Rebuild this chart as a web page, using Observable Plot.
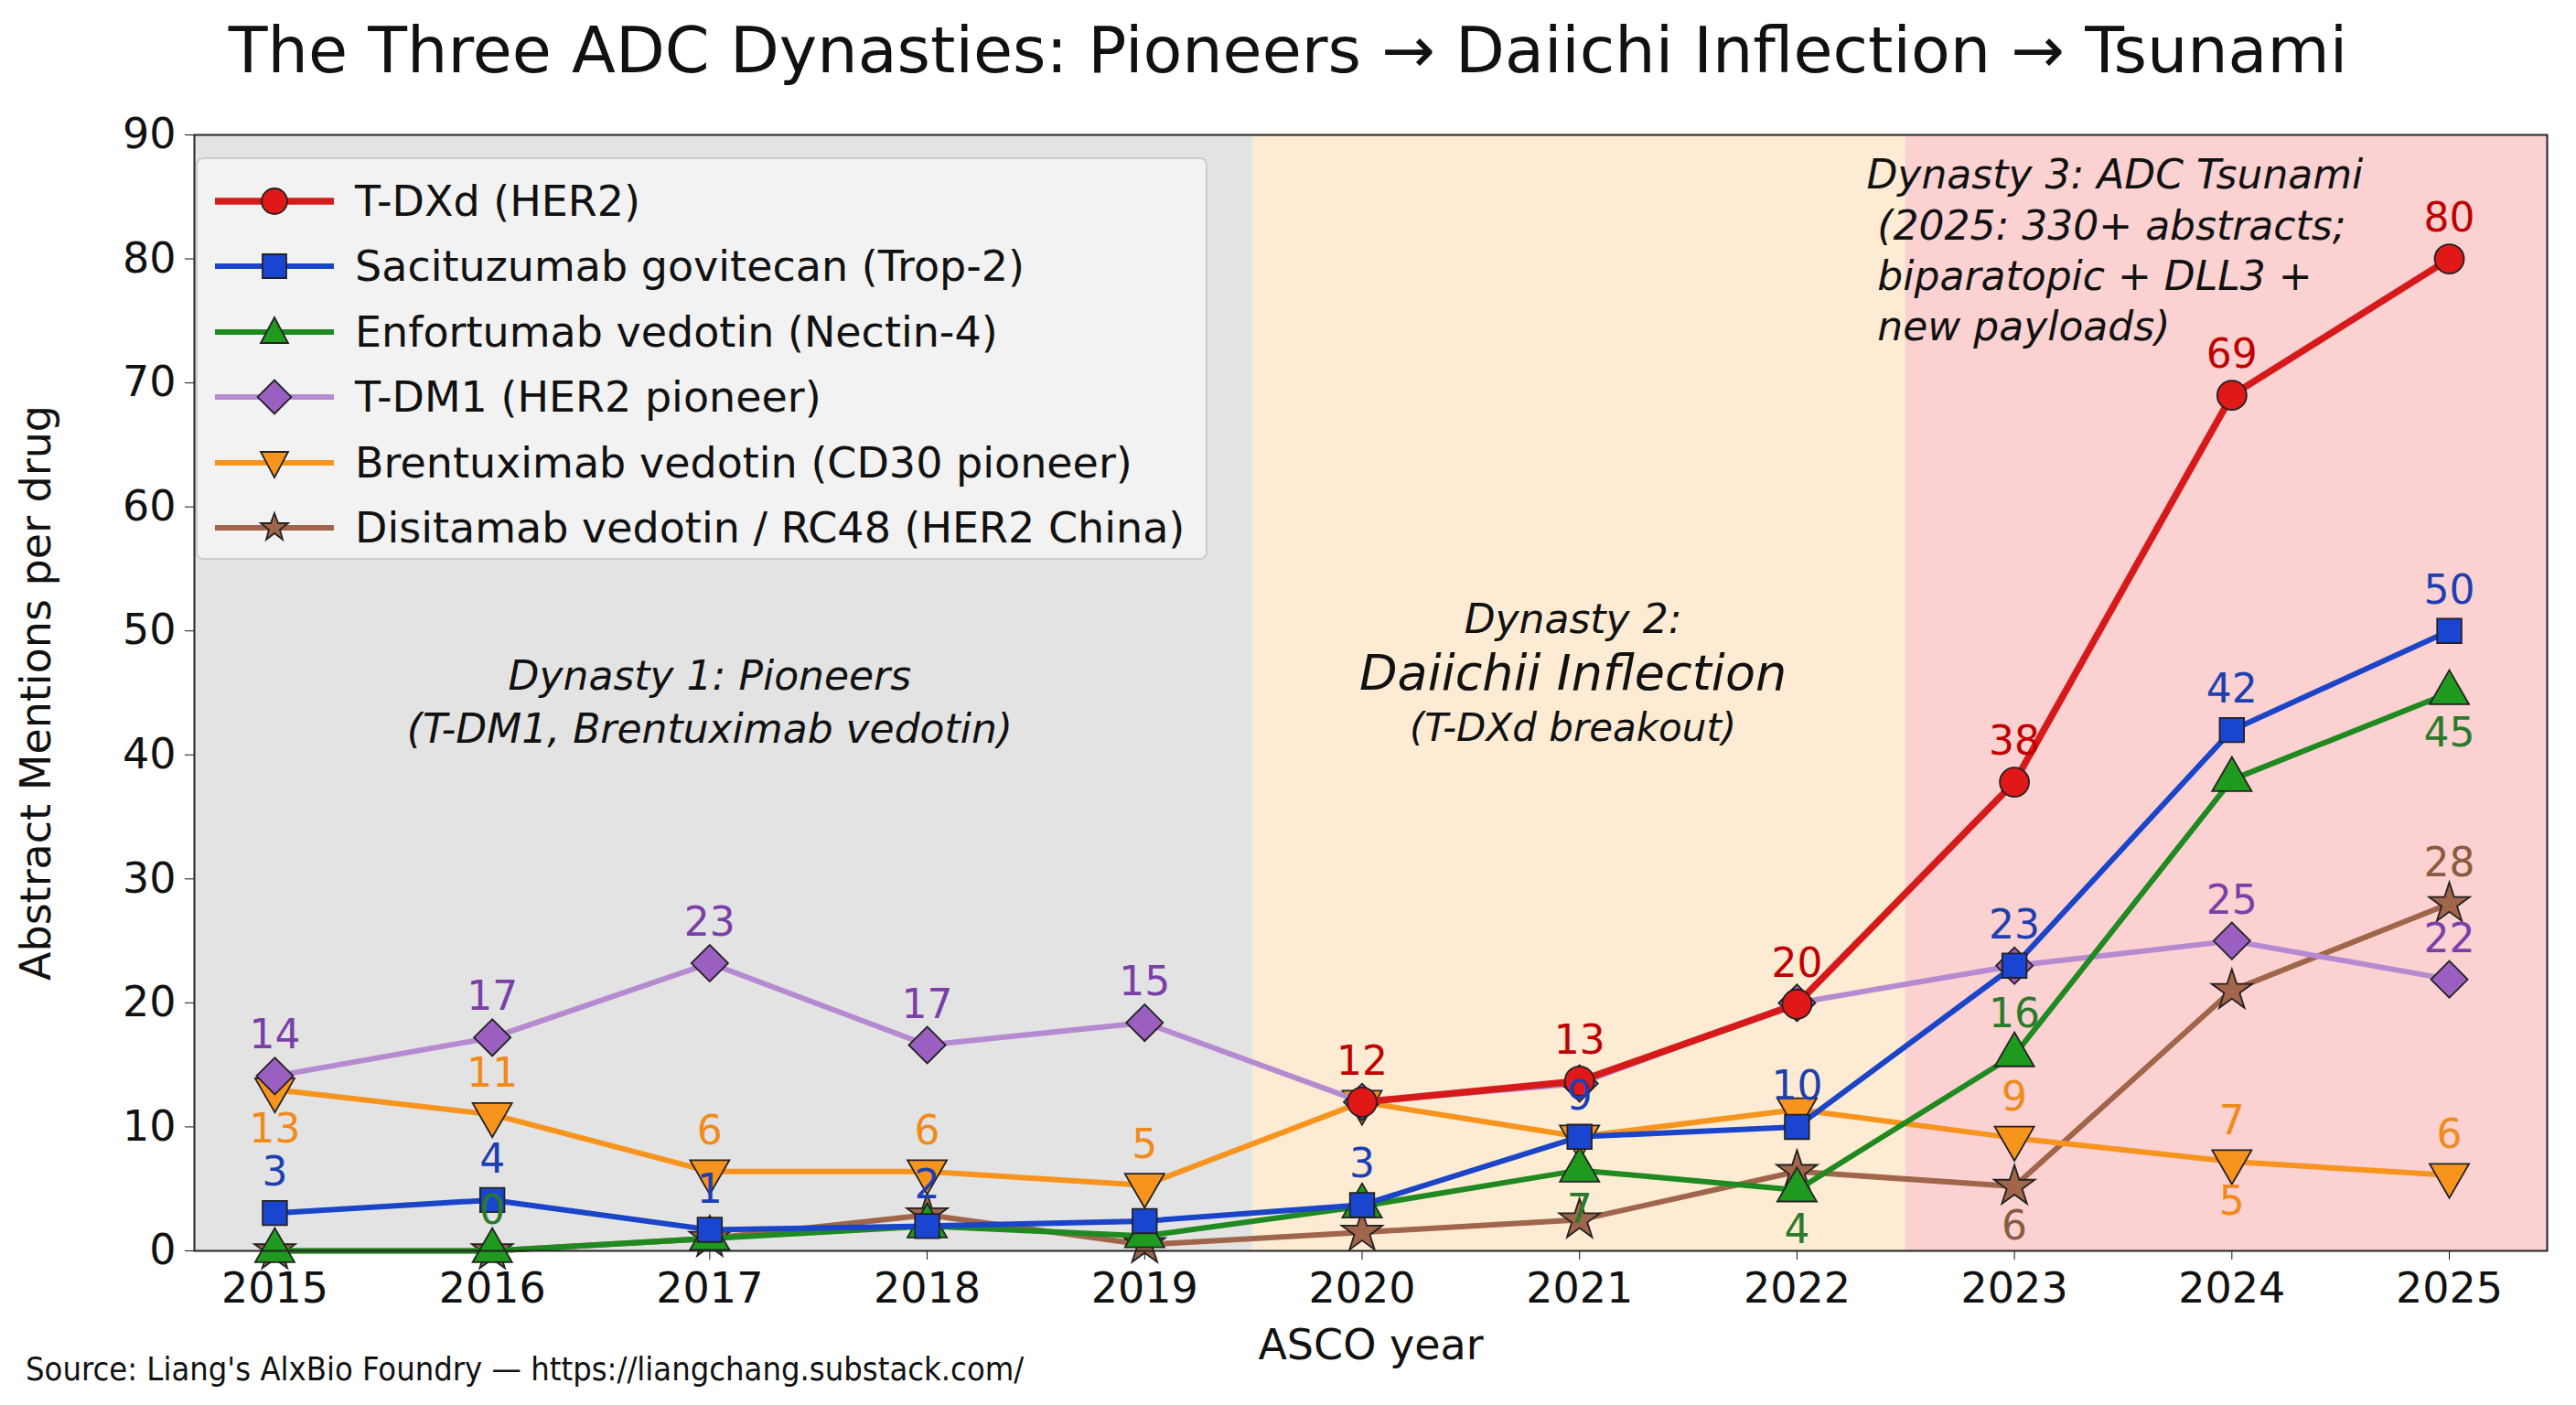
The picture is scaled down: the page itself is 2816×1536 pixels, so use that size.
<!DOCTYPE html>
<html><head><meta charset="utf-8">
<script src="https://cdn.jsdelivr.net/npm/d3@7"></script>
<script src="https://cdn.jsdelivr.net/npm/@observablehq/plot@0.6"></script>
<style>
body{margin:0;background:#fff;font-family:"DejaVu Sans",sans-serif;}
#wrap{position:relative;width:2816px;height:1536px;}
#title{position:absolute;top:14px;left:0;width:2816px;text-align:center;font-size:70px;color:#111;}
#src{position:absolute;left:28px;top:1476px;font-size:36px;color:#111;font-family:"DejaVu Sans Condensed","DejaVu Sans",sans-serif;}
#legend{position:absolute;left:214px;top:172px;width:1106px;height:440px;border:2px solid #ccc;border-radius:8px;background:rgba(245,245,245,0.85);box-sizing:border-box;padding:10px 14px;}
.li{display:flex;align-items:center;height:71.5px;font-size:46px;color:#111;white-space:nowrap;}
.li svg{margin-right:18px;}
</style></head><body>
<div id="wrap"><div id="title">The Three ADC Dynasties: Pioneers → Daiichi Inflection → Tsunami</div>
<div id="chart" style="position:absolute;top:110px;left:0"></div>
<div id="legend"></div>
<div id="src">Source: Liang's AlxBio Foundry — https://liangchang.substack.com/</div></div>
<script>
const years=[2015,2016,2017,2018,2019,2020,2021,2022,2023,2024,2025];
const tdxdYears=[2020,2021,2022,2023,2024,2025];
const tdxd=[12,13.7,19.9,37.8,69,80];
const sacituzumab=[3.05,4.1,1.7,2,2.4,3.7,9.2,10,23,42,50];
const enfortumab=[0,0,1,2,1.2,3.6,6.5,4.9,15.8,38,45];
const tdm1=[14.1,17.2,23.2,16.6,18.4,12,13.5,20,23,25,21.9];
const brentuximab=[13,11,6.4,6.4,5.3,12,9.2,11.4,9.1,7.2,6.1];
const disitamab=[0,0,1,2.9,0.5,1.5,2.5,6.4,5.2,21,28];
const names=["T-DXd (HER2)","Sacituzumab govitecan (Trop-2)","Enfortumab vedotin (Nectin-4)","T-DM1 (HER2 pioneer)","Brentuximab vedotin (CD30 pioneer)","Disitamab vedotin / RC48 (HER2 China)"];
const lineColors=["#d61a1a","#1a45c8","#1f8a1f","#b58ad0","#f7941d","#a0654a"];
const markColors=["#e01818","#1a45d0","#1f9a1f","#9a5fc0","#f7941d","#a0654a"];
const labelColors=["#c00000","#1d3fb0","#2a7a2a","#7b3fa8","#f08a1a","#8b5a40"];
const symbols=["circle","square","triangle","square","triangle","star"];
const rotates=[0,0,0,45,180,0];
// labels: [series index, year, value, text, above?]
const labels=[
[0,2020,12,"12",1],[0,2021,13.7,"13",1],[0,2022,19.9,"20",1],[0,2023,37.8,"38",1],[0,2024,69,"69",1],[0,2025,80,"80",1],
[1,2015,3.05,"3",1],[1,2016,4.1,"4",1],[1,2017,1.7,"1",1],[1,2018,2,"2",1],[1,2020,3.7,"3",1],[1,2021,9.2,"9",1],[1,2022,10,"10",1],[1,2023,23,"23",1],[1,2024,42,"42",1],[1,2025,50,"50",1],
[2,2016,0,"0",1],[2,2021,6.5,"7",0],[2,2022,4.9,"4",0],[2,2023,15.8,"16",1],[2,2025,45,"45",0],
[3,2015,14.1,"14",1],[3,2016,17.2,"17",1],[3,2017,23.2,"23",1],[3,2018,16.6,"17",1],[3,2019,18.4,"15",1],[3,2024,25,"25",1],[3,2025,21.9,"22",1],
[4,2015,13,"13",0],[4,2016,11,"11",1],[4,2017,6.4,"6",1],[4,2018,6.4,"6",1],[4,2019,5.3,"5",1],[4,2023,9.1,"9",1],[4,2024,7.2,"7",1],[4,2024,7.2,"5",0],[4,2025,6.1,"6",1],
[5,2023,5.2,"6",0],[5,2025,28,"28",1]
];
const eras=[{x1:2014.63,x2:2019.5,fill:"#e3e3e3"},{x1:2019.5,x2:2022.5,fill:"#fdebd3"},{x1:2022.5,x2:2025.45,fill:"#fbd1d1"}];
const notes=[
{x:2017,y:46.3,t:"Dynasty 1: Pioneers",s:44,a:"middle"},
{x:2017,y:42,t:"(T-DM1, Brentuximab vedotin)",s:44,a:"middle"},
{x:2020.97,y:50.9,t:"Dynasty 2:",s:44,a:"middle"},
{x:2020.97,y:46.5,t:"Daiichii Inflection",s:54,a:"middle"},
{x:2020.97,y:42.1,t:"(T-DXd breakout)",s:42,a:"middle"},
{x:2022.32,y:86.7,t:"Dynasty 3: ADC Tsunami",s:44,a:"start"},
{x:2022.37,y:82.6,t:"(2025: 330+ abstracts;",s:44,a:"start"},
{x:2022.37,y:78.5,t:"biparatopic + DLL3 +",s:44,a:"start"},
{x:2022.37,y:74.5,t:"new payloads)",s:44,a:"start"}];
const series=[[tdxdYears,tdxd],[years,sacituzumab],[years,enfortumab],[years,tdm1],[years,brentuximab],[years,disitamab]];
const rows=[];
series.forEach(([ys,vs],i)=>ys.forEach((y,j)=>rows.push({i,year:y,v:vs[j]})));
const order=[5,4,3,2,1,0];
const marks=[Plot.rect(eras,{x1:"x1",x2:"x2",y1:0,y2:90,fill:"fill"})];
for(const i of order){
  const d=rows.filter(r=>r.i===i);
  marks.push(Plot.line(d,{x:"year",y:"v",stroke:lineColors[i],strokeWidth:i===0?7.5:6}));
  marks.push(Plot.dot(d,{x:"year",y:"v",symbol:()=>symbols[i],r:i===5?14:(i===1?15:16),fill:markColors[i],stroke:"#222",strokeWidth:1.8,rotate:rotates[i]}));
}
const lab={x:d=>d[1],y:d=>d[2],text:d=>d[3],fill:d=>labelColors[d[0]],fontSize:44};
marks.push(Plot.text(labels.filter(d=>d[4]),{...lab,dy:-44}));
marks.push(Plot.text(labels.filter(d=>!d[4]),{...lab,dy:44}));
for(const n of notes) marks.push(Plot.text([n],{x:"x",y:"y",text:"t",fontSize:n.s,fontStyle:"italic",textAnchor:n.a,fill:"#111"}));
marks.push(Plot.frame({stroke:"#222",strokeWidth:2}));
const chart=Plot.plot({width:2816,height:1426,marginLeft:212,marginRight:32,marginTop:37,marginBottom:169,
 style:{fontSize:"46px",fontFamily:"DejaVu Sans",color:"#111",background:"transparent"},
 x:{domain:[2014.63,2025.45],ticks:years,tickFormat:d=>String(d),label:"ASCO year",labelAnchor:"center",labelArrow:"none",tickSize:10,tickPadding:14,labelOffset:118},
 y:{domain:[0,90],ticks:d3.range(0,91,10),label:"Abstract Mentions per drug",labelAnchor:"center",labelArrow:"none",tickSize:10,tickPadding:10,labelOffset:190},
 marks});
document.getElementById("chart").appendChild(chart);
const lg=document.getElementById("legend");
const symPath={circle:"M0,-14A14,14 0 1,1 0,14A14,14 0 1,1 0,-14Z",square:"M-13,-13H13V13H-13Z",triangle:"M0,-16L15,12H-15Z",star:"M0,-16L4,-5L15,-5L6,2L9,13L0,6L-9,13L-6,2L-15,-5L-4,-5Z"};
names.forEach((n,i)=>{
 const div=document.createElement("div");div.className="li";
 div.innerHTML=`<svg width="140" height="40"><line x1="5" y1="20" x2="135" y2="20" stroke="${lineColors[i]}" stroke-width="${i===0?7.5:6}"/><path transform="translate(70,20) rotate(${rotates[i]})" d="${symPath[symbols[i]]}" fill="${markColors[i]}" stroke="#222" stroke-width="1.8"/></svg>${n}`;
 lg.appendChild(div);});
</script></body></html>
